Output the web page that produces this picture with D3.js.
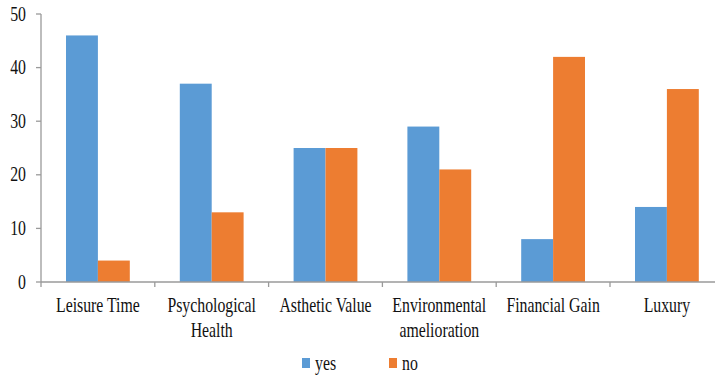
<!DOCTYPE html>
<html><head><meta charset="utf-8">
<script src="https://cdn.jsdelivr.net/npm/d3@7"></script>
<style>body{margin:0;background:#fff}svg{display:block}text{font-family:"Liberation Serif","Times New Roman",serif;fill:#111}</style>
</head><body><svg id="c" width="715" height="375"></svg>
<script>
const categories = [["Leisure Time"],["Psychological","Health"],["Asthetic Value"],["Environmental","amelioration"],["Financial Gain"],["Luxury"]];
const yesValues = [46,37,25,29,8,14];
const noValues = [4,13,25,21,42,36];
const seriesNames = ["yes","no"];
const yTicks = [0,10,20,30,40,50];
const colors = ["#5B9BD5","#ED7D31"];

(function(){
const svg = d3.select("#c");
const leftX = 41, bandW = 113.8, bottomY = 282, topY = 14;
const x0 = d3.scaleBand().domain(d3.range(categories.length)).range([leftX, leftX + bandW*categories.length]).padding(0);
const x1 = d3.scaleBand().domain(seriesNames).range([25, bandW-25]).padding(0);
const y = d3.scaleLinear().domain([0,50]).range([bottomY, topY]);
const sx = 0.79, fs = 20;

const data = categories.map((c,i)=>({i, vals:[yesValues[i], noValues[i]]}));
const g = svg.append("g");
data.forEach(d=>{
  seriesNames.forEach((s,k)=>{
    g.append("rect").attr("x", x0(d.i)+x1(s)).attr("width", x1.bandwidth())
      .attr("y", y(d.vals[k])).attr("height", y(0)-y(d.vals[k])).attr("fill", colors[k]);
  });
});

const axisColor = "#9a9a9a";
svg.append("line").attr("x1",leftX).attr("x2",leftX).attr("y1",topY).attr("y2",bottomY).attr("stroke",axisColor).attr("stroke-width",1.3);
yTicks.forEach(t=>{
  svg.append("line").attr("x1",leftX-5).attr("x2",leftX).attr("y1",y(t)).attr("y2",y(t)).attr("stroke",axisColor).attr("stroke-width",1.3);
  svg.append("text").attr("transform",`translate(26,${y(t)+6.5}) scale(${sx},1)`).attr("text-anchor","end").attr("font-size",fs).text(t);
});
svg.append("line").attr("x1",leftX).attr("x2",715).attr("y1",bottomY).attr("y2",bottomY).attr("stroke",axisColor).attr("stroke-width",1.3);
d3.range(categories.length+1).forEach(i=>{
  const xx = leftX + bandW*i;
  svg.append("line").attr("x1",xx).attr("x2",xx).attr("y1",bottomY).attr("y2",bottomY+5).attr("stroke",axisColor).attr("stroke-width",1.3);
});
categories.forEach((c,i)=>{
  const cx = x0(i)+x0.bandwidth()/2;
  c.forEach((line,j)=>{
    svg.append("text").attr("transform",`translate(${cx},${312+j*25}) scale(${sx},1)`).attr("text-anchor","middle").attr("font-size",fs).text(line);
  });
});
const legX = [302, 389];
seriesNames.forEach((s,k)=>{
  svg.append("rect").attr("x",legX[k]).attr("y",358).attr("width",8).attr("height",10).attr("fill",colors[k]);
  svg.append("text").attr("transform",`translate(${legX[k]+13},370) scale(${sx},1)`).attr("font-size",fs).text(s);
});
})();
</script></body></html>
